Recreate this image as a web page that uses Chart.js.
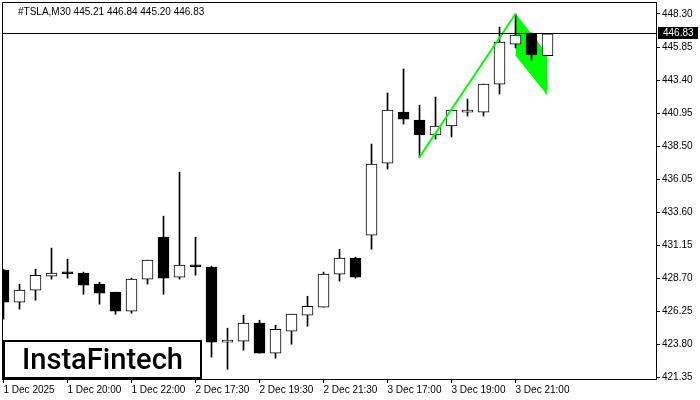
<!DOCTYPE html>
<html>
<head>
<meta charset="utf-8">
<script src="https://cdn.jsdelivr.net/npm/chart.js@4.4.1/dist/chart.umd.min.js"></script>
<style>
  html, body { margin: 0; padding: 0; background: #fff; }
  #wrap { width: 700px; height: 400px; }
</style>
</head>
<body>
<div id="wrap"><canvas id="myChart" width="700" height="400"></canvas></div>
<script>
// candles, M30
const opens  = [429.30, 426.92, 427.81, 428.85, 429.07, 429.07, 428.26, 427.66, 426.25, 428.63,
                431.74, 428.78, 429.67, 429.52, 423.95, 424.02, 425.36, 423.13, 424.77, 425.95,
                426.55, 429.00, 430.19, 431.89, 437.24, 441.02, 440.43, 439.32, 439.99, 441.02,
                441.02, 443.10, 446.07, 446.89, 445.21];
const highs  = [429.35, 428.26, 429.37, 430.93, 430.11, 429.15, 428.40, 427.66, 428.70, 430.04,
                433.30, 436.57, 431.74, 429.59, 424.99, 425.95, 425.58, 425.21, 426.03, 427.36,
                429.15, 430.85, 430.26, 438.65, 442.44, 444.22, 441.54, 442.14, 441.17, 441.99,
                443.10, 447.33, 448.30, 446.89, 446.84];
const lows   = [425.66, 426.40, 427.07, 428.63, 428.70, 427.51, 426.77, 426.03, 426.10, 428.26,
                427.51, 428.63, 428.92, 422.84, 421.94, 423.36, 423.13, 422.76, 423.80, 425.14,
                426.55, 428.48, 428.70, 430.85, 436.79, 440.13, 437.68, 439.02, 439.17, 440.73,
                440.73, 442.36, 445.78, 444.88, 445.20];
const closes = [426.92, 427.81, 428.92, 429.07, 429.03, 428.18, 427.59, 426.25, 428.63, 430.04,
                428.70, 429.67, 429.55, 423.95, 423.97, 425.36, 423.13, 424.91, 426.03, 426.62,
                429.00, 430.19, 428.78, 437.16, 441.17, 440.50, 439.32, 439.99, 441.17, 441.05,
                443.10, 446.22, 446.74, 445.26, 446.83];

// x labels every 4 bars
const timeTicks  = [0, 4, 8, 12, 16, 20, 24, 28, 32];
const timeLabels = ['1 Dec 2025', '1 Dec 20:00', '1 Dec 22:00', '2 Dec 17:30', '2 Dec 19:30',
                    '2 Dec 21:30', '3 Dec 17:00', '3 Dec 19:00', '3 Dec 21:00'];
const priceTicks = [448.30, 445.85, 443.40, 440.95, 438.50, 436.05, 433.60, 431.15, 428.70,
                    426.25, 423.80, 421.35];

// bullish flag
const poleX = [26, 32];
const poleY = [437.68, 448.30];
const flagX = [32, 34];
const flagUpper = [448.30, 445.26];
const flagLower = [445.26, 442.29];

const header = '#TSLA,M30 445.21 446.84 445.20 446.83';
const lastPrice = closes[closes.length - 1];
const green = '#00ff00';
const axisFont = { family: 'Liberation Sans', size: 10 };

const bodyColors = opens.map((o, i) => closes[i] >= o ? '#ffffff' : '#000000');

const extras = {
  id: 'extras',
  beforeDatasetsDraw(chart) {
    const { ctx, chartArea: a } = chart;
    ctx.save();
    ctx.strokeStyle = '#000';
    ctx.lineWidth = 1;
    ctx.beginPath();
    ctx.moveTo(a.left + 0.5, a.bottom);
    ctx.lineTo(a.left + 0.5, a.top + 0.5);
    ctx.lineTo(a.right, a.top + 0.5);
    ctx.stroke();
    ctx.restore();
  },
  afterDatasetsDraw(chart) {
    const { ctx, chartArea: a, scales } = chart;
    const y = Math.floor(scales.y.getPixelForValue(lastPrice)) + 0.5;
    ctx.save();
    ctx.strokeStyle = '#000';
    ctx.lineWidth = 1;
    ctx.beginPath();
    ctx.moveTo(a.left, y);
    ctx.lineTo(a.right, y);
    ctx.stroke();

    // price box on the axis
    ctx.fillStyle = '#000';
    ctx.fillRect(a.right + 2, y - 6.5, 40, 12);
    ctx.fillStyle = '#fff';
    ctx.font = '10px "Liberation Sans"';
    ctx.textBaseline = 'middle';
    ctx.textAlign = 'left';
    ctx.fillText(lastPrice.toFixed(2), a.right + 7, y);

    // header
    ctx.fillStyle = '#000';
    ctx.font = '10px "Liberation Sans"';
    ctx.fillText(header, 18, 12);

    // logo
    ctx.fillStyle = '#fff';
    ctx.fillRect(a.left + 1, 322, 200, a.bottom - 322);
    ctx.strokeStyle = '#000';
    ctx.lineWidth = 2;
    ctx.strokeRect(4, 341, 197, a.bottom - 342);
    ctx.font = '500 28px Roboto';
    const w = ctx.measureText('InstaFintech').width;
    const size = 28 * 161 / w;
    ctx.font = '500 ' + size.toFixed(1) + 'px Roboto';
    ctx.fillStyle = '#000';
    ctx.textBaseline = 'alphabetic';
    ctx.fillText('InstaFintech', 22, 369);
    ctx.restore();
  }
};

new Chart(document.getElementById('myChart'), {
  type: 'bar',
  data: {
    datasets: [
      {
        type: 'line',
        data: poleX.map((x, i) => ({ x: x, y: poleY[i] })),
        borderColor: green,
        borderWidth: 2,
        pointRadius: 0,
        order: -1
      },
      {
        label: 'body',
        data: opens.map((o, i) => ({ x: i, y: [o, closes[i]] })),
        backgroundColor: bodyColors,
        borderColor: '#000',
        borderWidth: 1,
        borderSkipped: false,
        barThickness: 11,
        minBarLength: 2,
        grouped: false,
        order: 0
      },
      {
        label: 'wick',
        data: lows.map((l, i) => ({ x: i, y: [l, highs[i]] })),
        backgroundColor: '#000',
        borderWidth: 0,
        barThickness: 1,
        grouped: false,
        order: 1
      },
      {
        type: 'line',
        data: flagX.map((x, i) => ({ x: x, y: flagUpper[i] })),
        borderColor: green,
        borderWidth: 1,
        pointRadius: 0,
        order: 2
      },
      {
        type: 'line',
        data: flagX.map((x, i) => ({ x: x, y: flagLower[i] })),
        borderColor: green,
        borderWidth: 1,
        backgroundColor: green,
        fill: '-1',
        pointRadius: 0,
        order: 2
      }
    ]
  },
  options: {
    responsive: false,
    animation: false,
    layout: { padding: { left: 2, top: 2, right: 0, bottom: 0 } },
    plugins: { legend: { display: false }, tooltip: { enabled: false } },
    scales: {
      x: {
        type: 'linear',
        offset: false,
        min: -0.09375,
        max: 40.78,
        afterBuildTicks: s => { s.ticks = timeTicks.map(v => ({ value: v })); },
        afterFit: s => { s.height = 21; s.paddingLeft = 0; s.paddingRight = 0; },
        grid: { offset: false, drawOnChartArea: false, tickLength: 4, tickColor: '#000' },
        border: { display: true, color: '#000' },
        ticks: {
          autoSkip: false,
          maxRotation: 0,
          align: 'start',
          padding: 1,
          color: '#000',
          font: axisFont,
          callback: v => timeLabels[timeTicks.indexOf(v)]
        }
      },
      y: {
        position: 'right',
        min: 421.22,
        max: 449.19,
        afterBuildTicks: s => { s.ticks = priceTicks.map(v => ({ value: v })); },
        afterFit: s => { s.width = 44; s.paddingTop = 0; s.paddingBottom = 0; },
        grid: { drawOnChartArea: false, tickLength: 4, tickColor: '#000' },
        border: { display: true, color: '#000' },
        ticks: {
          padding: 2,
          color: '#000',
          font: axisFont,
          callback: v => v.toFixed(2)
        }
      }
    }
  },
  plugins: [extras]
});
</script>
</body>
</html>
